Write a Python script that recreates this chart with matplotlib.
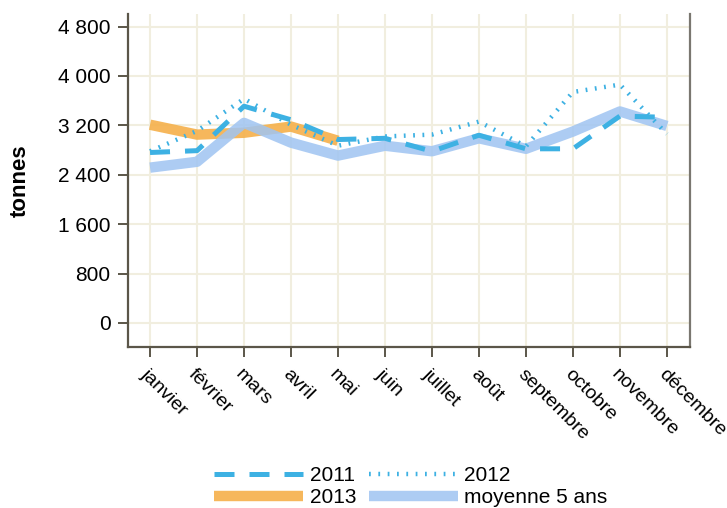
import matplotlib
matplotlib.use("Agg")
import matplotlib.pyplot as plt
from matplotlib.ticker import FuncFormatter

plt.rcParams["font.family"] = ["Liberation Sans", "DejaVu Sans"]

months = ["janvier", "février", "mars", "avril", "mai", "juin", "juillet",
          "août", "septembre", "octobre", "novembre", "décembre"]

y2011 = [2760, 2790, 3510, 3290, 2970, 2990, 2780, 3040, 2820, 2820, 3350, 3330]
y2012 = [2780, 3110, 3630, 3210, 2870, 3020, 3050, 3260, 2860, 3740, 3860, 3060]
y2013 = [3210, 3050, 3080, 3180, 2950]
avg5 = [2515, 2610, 3240, 2920, 2710, 2870, 2780, 2990, 2820, 3100, 3425, 3190]

yticks = [0, 800, 1600, 2400, 3200, 4000, 4800]

blue = "#3db1e3"
orange = "#f5b04a"
light = "#9fc4f2"
grid_c = "#f1eedf"
axis_c = "#5b5649"

fig = plt.figure(figsize=(7.27, 5.08), dpi=100)
ax = fig.add_axes([0.176, 0.317, 0.773, 0.655])

x = list(range(len(months)))

ax.plot(x[:len(y2013)], y2013, color=orange, lw=7.5, alpha=0.9,
        solid_capstyle="butt", label="2013", zorder=3)
ax.plot(x, avg5, color=light, lw=7.5, alpha=0.85,
        solid_capstyle="butt", label="moyenne 5 ans", zorder=4)
ax.plot(x, y2011, color=blue, lw=3.6, dashes=(4, 3),
        label="2011", zorder=5)
ax.plot(x, y2012, color=blue, lw=3.2, dashes=(0.4, 1.7),
        label="2012", zorder=6)

ax.set_xlim(-0.47, 11.49)
ax.set_ylim(-390, 5000)
ax.set_yticks(yticks)
ax.yaxis.set_major_formatter(FuncFormatter(lambda v, p: f"{int(v):,}".replace(",", " ")))
ax.set_xticks(x)
ax.set_xticklabels(months, rotation=-45, ha="left", va="top",
                   rotation_mode="anchor")

ax.grid(True, color=grid_c, lw=1.5, zorder=0)
ax.set_axisbelow(True)
ax.spines["top"].set_visible(False)
for s in ["left", "bottom"]:
    ax.spines[s].set_color(axis_c)
    ax.spines[s].set_linewidth(1.6)
ax.spines["right"].set_color("#7a7770")
ax.spines["right"].set_linewidth(1.6)
ax.tick_params(axis="both", colors=axis_c, length=7.5, width=1.4,
               labelcolor="black", labelsize=15, pad=5)
ax.tick_params(axis="x", pad=6, labelsize=14)

ax.set_ylabel("tonnes", fontsize=16, fontweight="bold")
ax.yaxis.set_label_coords(-0.173, 0.5)

h, l = ax.get_legend_handles_labels()
# column-first fill: 2011, 2013 | 2012, moyenne
order = [2, 0, 3, 1]
fig.legend([h[i] for i in order], [l[i] for i in order], ncol=2,
           loc="lower center", bbox_to_anchor=(0.565, -0.035),
           frameon=False, fontsize=15, handlelength=4.3,
           columnspacing=0.6, handletextpad=0.3, labelspacing=0.15)

fig.savefig("out.png", dpi=100)
